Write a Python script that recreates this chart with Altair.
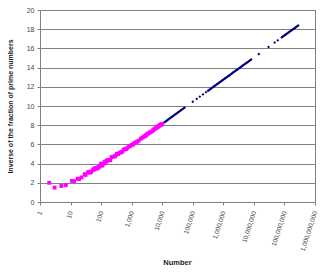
import altair as alt
import pandas as pd

# Pink series (small numbers): number and inverse of the fraction of primes
pink_n = [2, 3, 5, 7, 11, 13, 17, 19, 23, 29, 31, 37, 41, 43, 47, 53, 59, 61, 67, 71, 73, 79, 83, 89, 97,
          100, 110, 120, 130, 140, 150, 160, 170, 180, 200, 220, 250, 280, 300, 330, 360, 400, 450, 500,
          550, 600, 650, 700, 800, 900, 1000, 1100, 1200, 1350, 1500, 1700, 2000, 2250, 2500, 2800, 3000,
          3300, 3600, 4000, 4500, 5000, 5500, 6000, 6500, 7000, 7500, 8000, 8500, 9000, 9500, 10000]
pink_y = [2.0, 1.5, 1.67, 1.75, 2.2, 2.17, 2.43, 2.38, 2.56, 2.9, 2.82, 3.08, 3.15, 3.07, 3.13, 3.31, 3.47, 3.39,
          3.53, 3.55, 3.48, 3.59, 3.61, 3.71, 3.88,
          4.0, 3.79, 4.0, 4.19, 4.12, 4.29, 4.32, 4.36, 4.39, 4.35, 4.68, 4.72, 4.75, 4.84, 5.0, 5.0, 5.13, 5.17, 5.26,
          5.45, 5.5, 5.51, 5.6, 5.76, 5.84, 5.95, 5.98, 6.12, 6.19, 6.28, 6.39, 6.6, 6.7, 6.81, 6.88, 6.98,
          7.11, 7.16, 7.27, 7.33, 7.47, 7.59, 7.66, 7.76, 7.78, 7.89, 7.94, 8.03, 8.06, 8.07, 8.14]

# Navy series (large numbers)
navy_n = [10000, 10800, 11600, 12500, 13500, 14500, 15600, 16800, 18000, 19500, 21000, 22500, 24000, 26000,
          28000, 30000, 32500, 35000, 37500, 40000, 43000, 46000, 50000, 54000,
          100000, 135000, 170000, 215000, 270000,
          316000, 339000, 363000, 389000, 417000, 447000, 479000, 513000, 550000, 589000, 631000, 676000,
          724000, 776000, 832000, 891000, 955000, 1023000, 1096000, 1175000, 1259000, 1349000, 1445000,
          1549000, 1660000, 1778000, 1905000, 2042000, 2188000, 2344000, 2512000, 2692000, 2884000, 3090000,
          3311000, 3548000, 3802000, 4074000, 4365000, 4677000, 5012000, 5370000, 5754000, 6166000, 6607000,
          7079000, 7586000, 8128000,
          14500000, 30200000, 47900000, 60300000,
          81300000, 87100000, 93300000, 100000000, 107200000, 114800000, 123000000, 131800000, 141300000,
          151400000, 162200000, 173800000, 186200000, 199500000, 213800000, 229100000, 245500000, 263000000,
          281800000]
navy_y = [8.14, 8.22, 8.29, 8.36, 8.44, 8.51, 8.59, 8.66, 8.73, 8.81, 8.88, 8.95, 9.02, 9.10,
          9.17, 9.24, 9.32, 9.39, 9.46, 9.53, 9.60, 9.67, 9.75, 9.83,
          10.44, 10.74, 10.97, 11.21, 11.44,
          11.59, 11.66, 11.73, 11.80, 11.87, 11.94, 12.01, 12.08, 12.15, 12.22, 12.29, 12.35,
          12.42, 12.49, 12.56, 12.63, 12.70, 12.77, 12.84, 12.91, 12.98, 13.05, 13.11,
          13.18, 13.25, 13.32, 13.39, 13.46, 13.53, 13.60, 13.67, 13.74, 13.80, 13.87,
          13.94, 14.01, 14.08, 14.15, 14.22, 14.29, 14.36, 14.43, 14.50, 14.56, 14.63,
          14.70, 14.77, 14.84,
          15.42, 16.15, 16.61, 16.84,
          17.14, 17.21, 17.28, 17.36, 17.42, 17.49, 17.56, 17.63, 17.70,
          17.77, 17.83, 17.90, 17.97, 18.04, 18.11, 18.18, 18.25, 18.32,
          18.39]

x_ticks = [1, 10, 100, 1000, 10000, 100000, 1000000, 10000000, 100000000, 1000000000]
y_ticks = [0, 2, 4, 6, 8, 10, 12, 14, 16, 18, 20]

pink = pd.DataFrame({"n": pink_n, "inv": pink_y})
navy = pd.DataFrame({"n": navy_n, "inv": navy_y})

FONT = "Liberation Sans"

x_enc = alt.X(
    "n:Q",
    scale=alt.Scale(type="log", domain=[1, 1000000000], nice=False),
    axis=alt.Axis(
        values=x_ticks, format=",", title="Number", grid=False,
        labelAngle=288, labelAlign="right", labelBaseline="middle",
        labelPadding=6, labelFontSize=6.5, labelColor="#444444", labelFont=FONT,
        tickSize=3, tickColor="#808080", domainColor="#808080",
        titleFont=FONT, titleFontSize=7.5, titleFontWeight="bold", titleColor="#222222",
        titleX=137, titleY=60, titleAlign="center", titleBaseline="middle",
        labelOverlap=False, labelBound=False,
    ),
)
y_enc = alt.Y(
    "inv:Q",
    scale=alt.Scale(domain=[0, 20], nice=False),
    axis=alt.Axis(
        values=y_ticks, title="Inverse of the fraction of prime numbers", grid=True,
        gridColor="#808080", gridWidth=1,
        labelFontSize=7, labelColor="#444444", labelFont=FONT, labelPadding=3,
        tickSize=3, tickColor="#808080", domainColor="#808080",
        titleFont=FONT, titleFontSize=7, titleFontWeight="bold", titleColor="#222222",
        titleX=-30, titleY=96, titleAngle=270, titleAlign="center", titleBaseline="middle",
        labelOverlap=False,
    ),
)

navy_layer = alt.Chart(navy).mark_point(
    shape="diamond", filled=True, color="#000080", size=8, opacity=1
).encode(x=x_enc, y=y_enc)

pink_layer = alt.Chart(pink).mark_point(
    shape="square", filled=True, color="#FF00FF", size=15, opacity=1
).encode(x=x_enc, y=y_enc)

chart = alt.layer(navy_layer, pink_layer).properties(
    width=275, height=192,
    autosize=alt.AutoSizeParams(type="none"),
    padding={"left": 40, "top": 10, "right": 5, "bottom": 72},
    background="white",
).configure_view(stroke="#808080", strokeWidth=1)

chart.save("out.html", embed_options={"renderer": "svg", "actions": False})
